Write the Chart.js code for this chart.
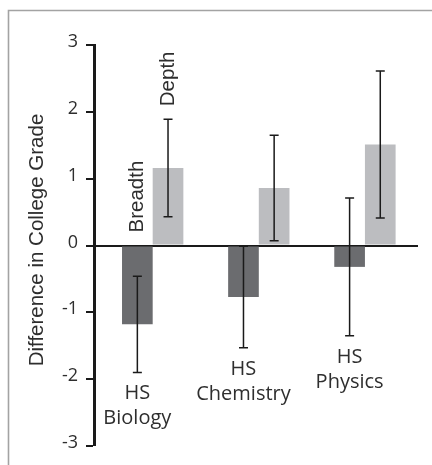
<!DOCTYPE html>
<html>
<head>
<meta charset="utf-8">
<script src="https://cdn.jsdelivr.net/npm/chart.js@4/dist/chart.umd.min.js"></script>
<style>
  html, body { margin: 0; padding: 0; background: #fff; overflow: hidden; }
  #wrap { position: relative; width: 432px; height: 465px; }
</style>
</head>
<body>
<div id="wrap"><canvas id="c" width="432" height="465"></canvas></div>
<script>
// Course groups (two-line labels drawn under each group)
const categories = [['HS', 'Biology'], ['HS', 'Chemistry'], ['HS', 'Physics']];
const seriesNames = ['Breadth', 'Depth'];

// Mean difference in college grade and the half-width of each error bar
const breadthValues = [-1.18, -0.77, -0.32];
const breadthErrors = [0.72, 0.76, 1.03];
const depthValues = [1.16, 0.86, 1.51];
const depthErrors = [0.73, 0.79, 1.10];

const yTicks = [-3, -2, -1, 0, 1, 2, 3];
const yTitle = 'Difference in College Grade';

const seriesColors = ['#6b6c6f', '#bcbdc0'];
const inkColor = '#1a1a1a';
const textColor = '#2e2e2e';
const labelFont = '"Liberation Sans", Arial, sans-serif';
const dinFont = '"Open Sans", sans-serif';

const seriesValues = [breadthValues, depthValues];
const seriesErrors = [breadthErrors, depthErrors];

// Thin grey frame along the top and left edge
const framePlugin = {
  id: 'frame',
  beforeDraw(chart) {
    const ctx = chart.ctx;
    ctx.save();
    ctx.strokeStyle = '#a3a3a3';
    ctx.lineWidth = 1.6;
    ctx.beginPath();
    ctx.moveTo(8.5, chart.height);
    ctx.lineTo(8.5, 10.5);
    ctx.lineTo(chart.width, 10.5);
    ctx.stroke();
    ctx.restore();
  }
};

// Vertical error bars with short caps, centred on each bar
const errorBarPlugin = {
  id: 'errorBars',
  afterDatasetsDraw(chart) {
    const ctx = chart.ctx;
    const y = chart.scales.y;
    ctx.save();
    ctx.strokeStyle = inkColor;
    ctx.lineWidth = 1.5;
    chart.data.datasets.forEach((ds, di) => {
      const meta = chart.getDatasetMeta(di);
      meta.data.forEach((bar, i) => {
        const v = seriesValues[di][i];
        const e = seriesErrors[di][i];
        const yHi = y.getPixelForValue(v + e);
        const yLo = y.getPixelForValue(v - e);
        const x = bar.x;
        ctx.beginPath();
        ctx.moveTo(x, yHi); ctx.lineTo(x, yLo);
        ctx.moveTo(x - 4.5, yHi); ctx.lineTo(x + 4.5, yHi);
        ctx.moveTo(x - 4.5, yLo); ctx.lineTo(x + 4.5, yLo);
        ctx.stroke();
      });
    });
    ctx.restore();
  }
};

// Series names above the first group, course names under each group, axis title
const annotationPlugin = {
  id: 'annotations',
  afterDraw(chart) {
    const ctx = chart.ctx;
    const y = chart.scales.y;
    ctx.save();
    ctx.fillStyle = textColor;

    // rotated series names over the first pair of bars
    ctx.font = '20.5px ' + labelFont;
    ctx.textAlign = 'left';
    ctx.textBaseline = 'alphabetic';
    chart.data.datasets.forEach((ds, di) => {
      const bar = chart.getDatasetMeta(di).data[0];
      const top = Math.max(0, seriesValues[di][0] + seriesErrors[di][0]);
      const py = y.getPixelForValue(top) - 13;
      ctx.save();
      ctx.translate(bar.x + 5.5, py);
      ctx.rotate(-Math.PI / 2);
      ctx.fillText(ds.label, 0, 0);
      ctx.restore();
    });

    // course names beneath the lower end of each Breadth error bar
    ctx.font = '20px ' + dinFont;
    ctx.textAlign = 'center';
    const breadthMeta = chart.getDatasetMeta(0);
    categories.forEach((lines, i) => {
      const bar = breadthMeta.data[i];
      const low = breadthValues[i] - breadthErrors[i];
      let by = y.getPixelForValue(low) + 27;
      lines.forEach(line => {
        ctx.fillText(line, bar.x, by);
        by += 25;
      });
    });

    // vertical axis title
    ctx.font = '20.5px ' + labelFont;
    ctx.textAlign = 'center';
    ctx.textBaseline = 'middle';
    ctx.translate(37, 240);
    ctx.rotate(-Math.PI / 2);
    ctx.fillText(yTitle, 0, 0);
    ctx.restore();
  }
};

function build() {
  const datasets = seriesNames.map((name, di) => ({
    label: name,
    data: seriesValues[di].map((v, i) => ({ x: i, y: v })),
    backgroundColor: seriesColors[di],
    borderWidth: 0,
    barPercentage: 1,
    categoryPercentage: 0.578
  }));

  new Chart(document.getElementById('c'), {
    type: 'bar',
    data: { datasets },
    options: {
      responsive: false,
      animation: false,
      devicePixelRatio: 1,
      layout: { padding: { left: 0, right: 14, top: 45, bottom: 19 } },
      plugins: { legend: { display: false }, tooltip: { enabled: false } },
      scales: {
        x: {
          type: 'linear',
          min: -0.553,
          max: 2.5,
          offset: false,
          display: false,
          afterBuildTicks(s) { s.ticks = categories.map((_, i) => ({ value: i })); }
        },
        y: {
          min: -3,
          max: 3,
          z: 1,
          afterFit(s) { s.width = 94; },
          afterBuildTicks(s) { s.ticks = yTicks.map(v => ({ value: v })); },
          ticks: {
            font: { family: dinFont, size: 18 },
            color: textColor,
            padding: 8,
            labelOffset: -3
          },
          grid: {
            drawOnChartArea: true,
            color: c => (c.tick && c.tick.value === 0 ? inkColor : 'rgba(0,0,0,0)'),
            lineWidth: c => (c.tick && c.tick.value === 0 ? 2 : 0),
            tickColor: inkColor,
            tickWidth: 2,
            tickLength: 8
          },
          border: { display: true, color: inkColor, width: 3 }
        }
      }
    },
    plugins: [framePlugin, errorBarPlugin, annotationPlugin]
  });
}

Promise.all([
  document.fonts.load('20px "Open Sans"'),
  document.fonts.load('20px "Liberation Sans"')
]).then(build, build);
</script>
</body>
</html>
